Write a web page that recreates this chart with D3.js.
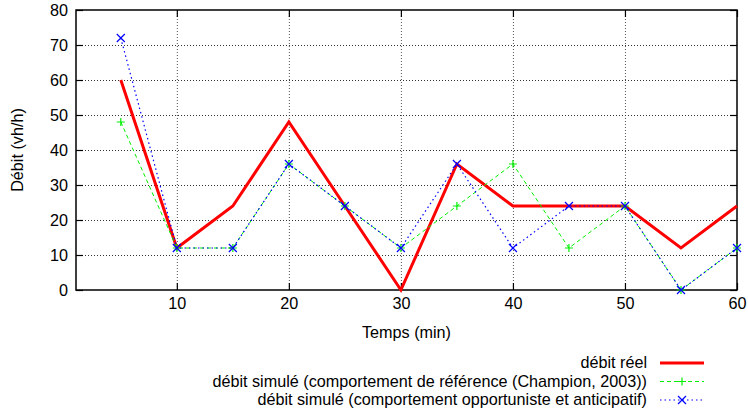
<!DOCTYPE html>
<html>
<head>
<meta charset="utf-8">
<script src="https://cdn.jsdelivr.net/npm/d3@7"></script>
<style>
  body { margin: 0; background: #fff; }
  text { font-family: "Liberation Sans", Arial, sans-serif; fill: #000; }
</style>
</head>
<body>
<script>
// data
let temps = [5, 10, 15, 20, 25, 30, 35, 40, 45, 50, 55, 60];
let debitReel = [60, 12, 24, 48, 24, 0, 36, 24, 24, 24, 12, 24];
let debitReference = [48, 12, 12, 36, 24, 12, 24, 36, 12, 24, 0, 12];
let debitOpportuniste = [72, 12, 12, 36, 24, 12, 36, 12, 24, 24, 0, 12];
let xTicks = [10, 20, 30, 40, 50, 60];
let yTicks = [0, 10, 20, 30, 40, 50, 60, 70, 80];
let legendLabels = [
  'débit réel',
  'débit simulé (comportement de référence (Champion, 2003))',
  'débit simulé (comportement opportuniste et anticipatif)'
];

let width = 748, height = 412;
let margin = {top: 10, bottom: 122, left: 76, right: 11};
let fontSize = '16.2px';

let svg = d3.select('body').append('svg').attr('width', width).attr('height', height)

let xScale = d3.scaleLinear().domain([1, 60]).range([margin.left, width - margin.right])
let yScale = d3.scaleLinear().domain([0, 80]).range([height - margin.bottom, margin.top])

let plotW = width - margin.left - margin.right
let plotH = height - margin.top - margin.bottom

// grid
let xGrid = svg.append('g').attr('transform', `translate(0,${height - margin.bottom})`)
  .call(d3.axisBottom(xScale).tickValues(xTicks.filter(d => d < 60)).tickSize(-plotH).tickFormat(''))
let yGrid = svg.append('g').attr('transform', `translate(${margin.left},0)`)
  .call(d3.axisLeft(yScale).tickValues(yTicks.filter(d => d > 0 && d < 80)).tickSize(-plotW).tickFormat(''))
svg.selectAll('.domain').remove()
xGrid.selectAll('line').attr('stroke', '#555').attr('stroke-dasharray', '1,2')
yGrid.selectAll('line').attr('stroke', '#333').attr('stroke-dasharray', '1,2')

// axes (ticks inward, mirrored)
let yAxis = svg.append('g').attr('transform', `translate(${margin.left},0)`)
  .call(d3.axisLeft(yScale).tickValues(yTicks).tickSize(-7).tickPadding(8))
let yAxisR = svg.append('g').attr('transform', `translate(${width - margin.right},0)`)
  .call(d3.axisRight(yScale).tickValues(yTicks).tickSize(-7).tickFormat(''))
let xAxis = svg.append('g').attr('transform', `translate(0,${height - margin.bottom})`)
  .call(d3.axisBottom(xScale).tickValues(xTicks).tickSize(-7).tickPadding(11))
let xAxisT = svg.append('g').attr('transform', `translate(0,${margin.top})`)
  .call(d3.axisTop(xScale).tickValues(xTicks).tickSize(-7).tickFormat(''))
for (let a of [xAxis, yAxis, xAxisT, yAxisR]) {
  a.select('.domain').remove()
  a.selectAll('line').attr('stroke', '#000').attr('stroke-width', 1.2)
  a.selectAll('text').style('font-size', fontSize).style('font-family', '"Liberation Sans", Arial, sans-serif').attr('fill', '#000')
}
xAxis.selectAll('text').attr('dy', '0.5em')

// border
svg.append('rect').attr('x', margin.left).attr('y', margin.top)
  .attr('width', plotW).attr('height', plotH)
  .attr('fill', 'none').attr('stroke', '#000').attr('stroke-width', 1.5)

// series
let series = [
  {values: debitReel, color: '#ff0000', width: 3, dash: null, mark: null},
  {values: debitReference, color: '#00ee00', width: 1, dash: '4,3', mark: 'plus'},
  {values: debitOpportuniste, color: '#0000ff', width: 1.2, dash: '1.5,3', mark: 'cross'}
]

let line = d3.line().x(d => xScale(d[0])).y(d => yScale(d[1]))

function marker(g, type, x, y, color) {
  let s = 4
  if (type === 'plus') {
    g.append('path').attr('d', `M${x - s},${y}H${x + s}M${x},${y - s}V${y + s}`)
      .attr('stroke', color).attr('stroke-width', 1.2).attr('fill', 'none')
  } else if (type === 'cross') {
    g.append('path').attr('d', `M${x - s},${y - s}L${x + s},${y + s}M${x - s},${y + s}L${x + s},${y - s}`)
      .attr('stroke', color).attr('stroke-width', 1.2).attr('fill', 'none')
  }
}

series.forEach(s => {
  let pts = temps.map((t, i) => [t, s.values[i]])
  svg.append('path').datum(pts).attr('d', line)
    .attr('fill', 'none').attr('stroke', s.color).attr('stroke-width', s.width)
    .attr('stroke-dasharray', s.dash).attr('stroke-linejoin', 'miter')
  let g = svg.append('g')
  pts.forEach(p => marker(g, s.mark, xScale(p[0]), yScale(p[1]), s.color))
})

// axis titles
svg.append('text').attr('x', (margin.left + width - margin.right) / 2).attr('y', 338)
  .text('Temps (min)').style('text-anchor', 'middle').style('font-size', fontSize)
svg.append('text').attr('x', -(margin.top + height - margin.bottom) / 2).attr('y', 23)
  .attr('transform', 'rotate(-90)').text('Débit (vh/h)')
  .style('text-anchor', 'middle').style('font-size', fontSize)

// legend
let legendY = [363, 381.5, 400]
series.forEach((s, i) => {
  let y = legendY[i]
  svg.append('text').attr('x', 647).attr('y', y + 5).text(legendLabels[i])
    .style('text-anchor', 'end').style('font-size', fontSize)
  svg.append('line').attr('x1', 660).attr('x2', 704).attr('y1', y).attr('y2', y)
    .attr('stroke', s.color).attr('stroke-width', s.width).attr('stroke-dasharray', s.dash)
  marker(svg, s.mark, 682, y, s.color)
})
</script>
</body>
</html>
